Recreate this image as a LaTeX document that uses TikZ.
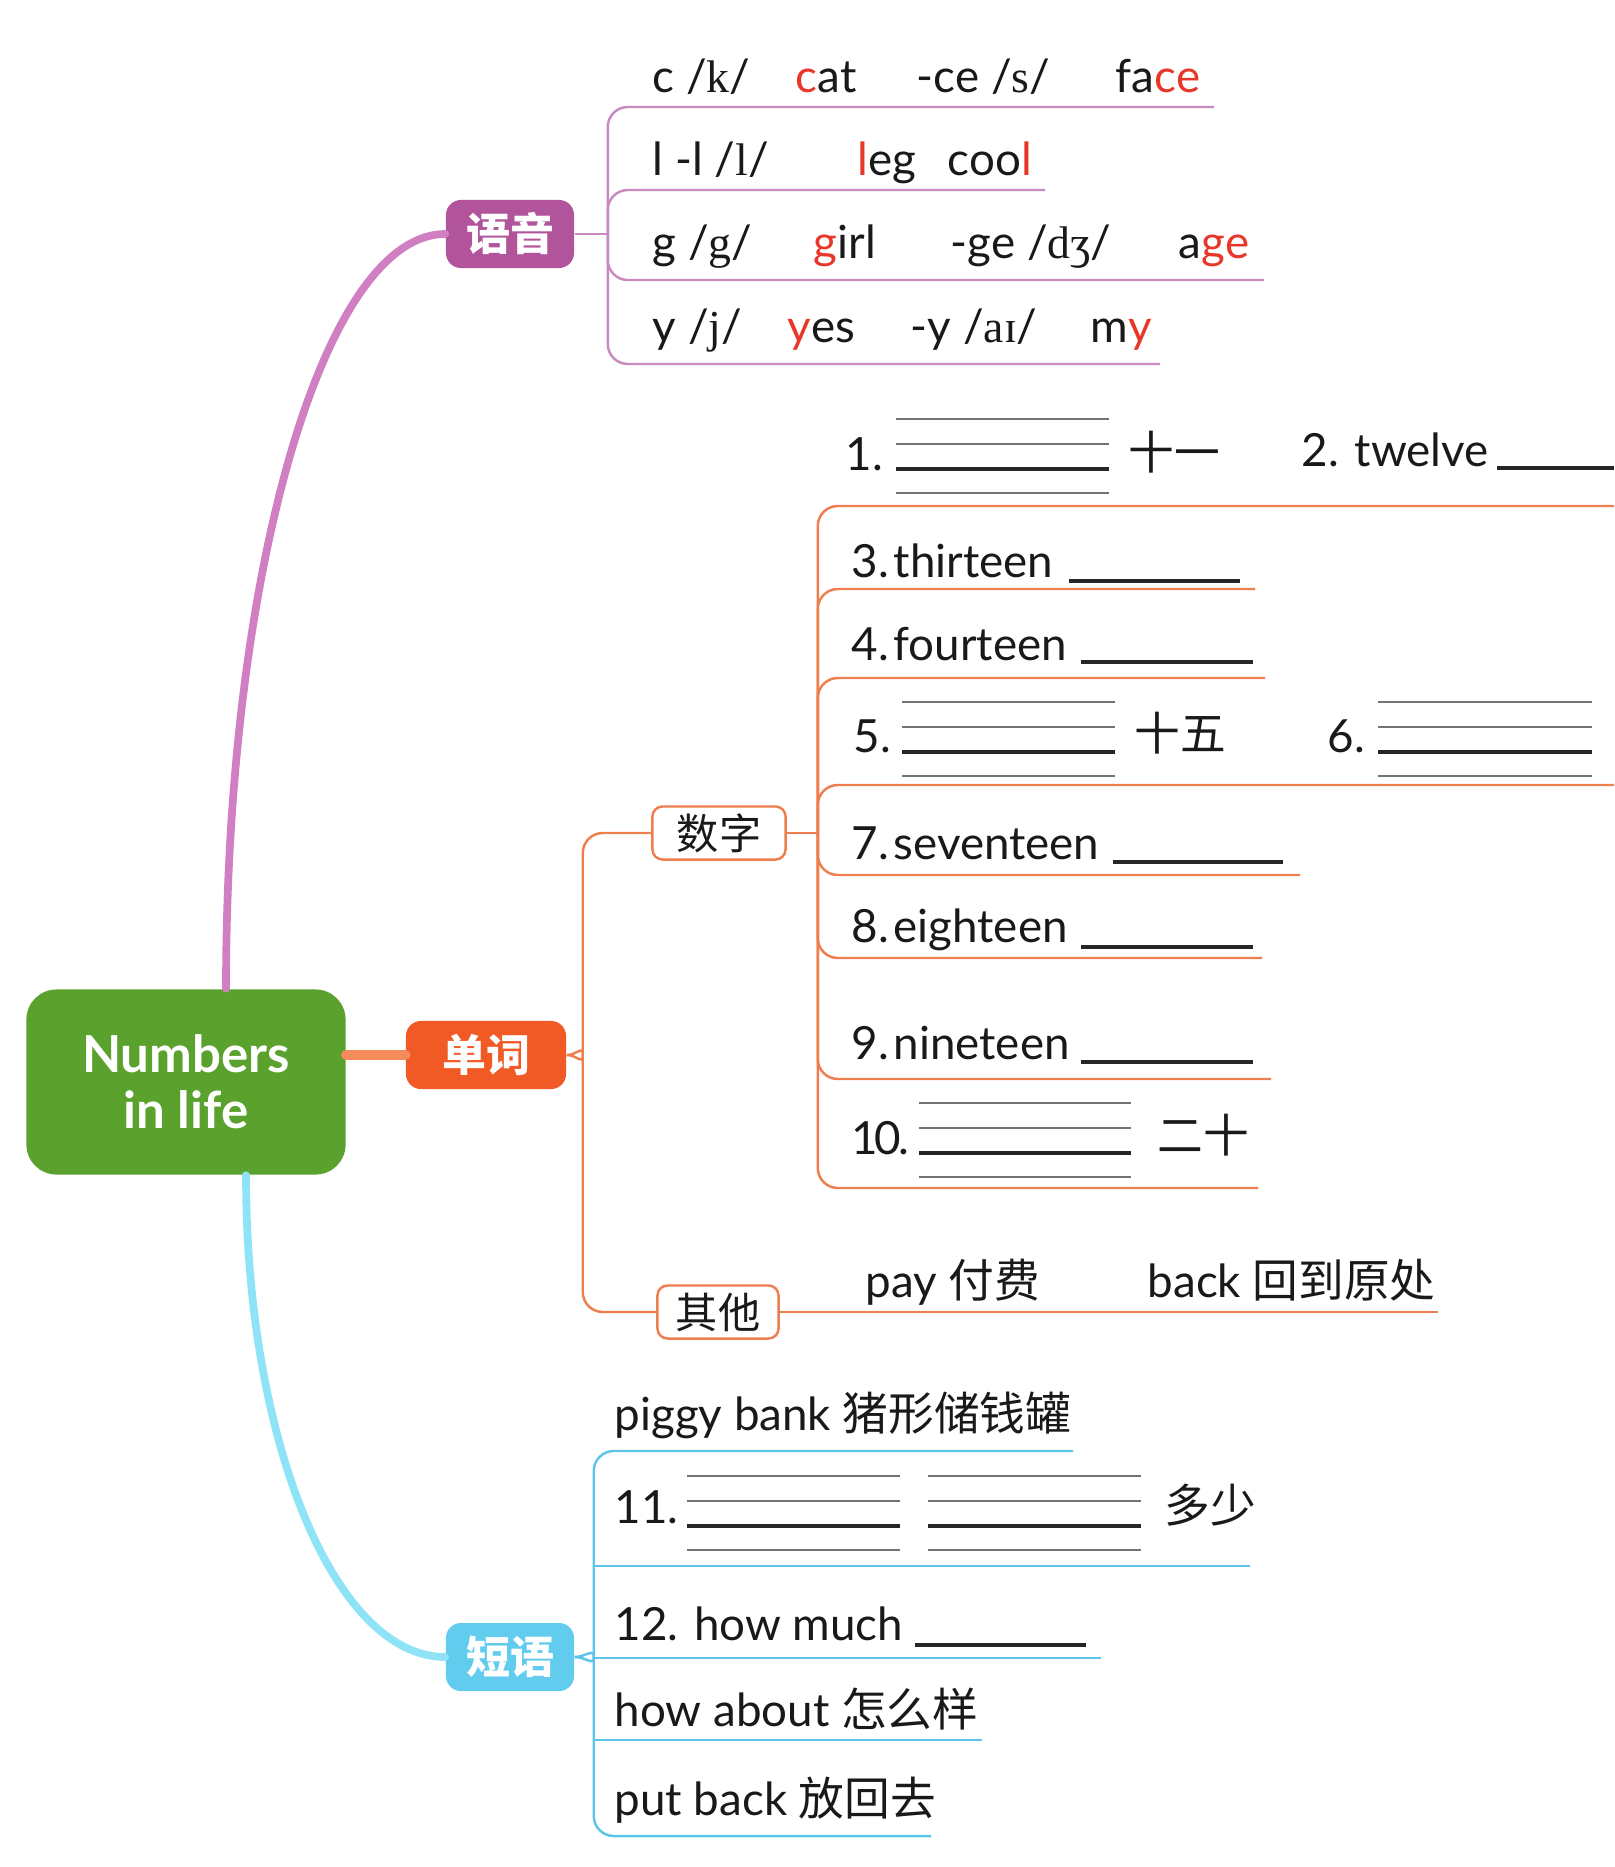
\documentclass[tikz,border=0pt]{standalone}
\usepackage{fontspec}
\setmainfont{Lato}
\newfontfamily\cjk{Noto Sans CJK SC}
\newfontfamily\ipa{Liberation Serif}
\usepackage{tikz}
\usetikzlibrary{positioning,calc}

\definecolor{rootgreen}{HTML}{5BA12E}
\definecolor{yypurple}{HTML}{B2549C}
\definecolor{yycurve}{HTML}{D07FC2}
\definecolor{yyline}{HTML}{C98ABF}
\definecolor{dcorange}{HTML}{F15A24}
\definecolor{dccurve}{HTML}{F58A5A}
\definecolor{dcline}{HTML}{EF7E4E}
\definecolor{dycyan}{HTML}{62CCEF}
\definecolor{dycurve}{HTML}{8EE4F6}
\definecolor{dyline}{HTML}{5EC5EA}
\definecolor{hl}{HTML}{E8372A}

\newcommand{\red}[1]{\textcolor{hl}{#1}}
\newcommand{\ph}[1]{{\ipa #1}}
\newcommand{\cell}[2]{\makebox[#1][l]{#2}}
\newcommand{\fourline}[3]{%
  \foreach \off in {-50,-25,24}{\draw[guide] (#1,#3+\off) -- (#2,#3+\off);}
  \draw[blank] (#1,#3) -- (#2,#3);}

\begin{document}
\begin{tikzpicture}[x=0.01cm, y=-0.01cm,
  every node/.style={font=\fontsize{13pt}{15pt}\selectfont, inner sep=0pt, text=black!90},
  root/.style={fill=rootgreen, rounded corners=0.3cm, minimum width=3.19cm, minimum height=1.85cm, align=center, text=white, font=\fontsize{14.5pt}{16pt}\selectfont\bfseries},
  topic/.style={rounded corners=0.15cm, minimum width=1.28cm, minimum height=0.68cm, text=white, font=\fontsize{12.5pt}{14pt}\selectfont\cjk\bfseries},
  sub/.style={draw=dcline, line width=0.7pt, fill=white, rounded corners=0.1cm, minimum height=0.53cm, font=\fontsize{12pt}{14pt}\selectfont\cjk},
  row/.style={anchor=base west},
  stem/.style={line width=2.2pt, line cap=round},
  twig/.style={line width=0.7pt, rounded corners=0.2cm},
  blank/.style={line width=0.9pt, black!85},
  guide/.style={line width=0.5pt, black!55}]
\useasboundingbox (0,0) rectangle (1614,1867);
% Centre and main branches
\node[root] (root) at (186,1082) {Numbers\\in life};
\node[topic, fill=yypurple] (yuyin) at (510,234) {语音};
\node[topic, fill=dcorange, minimum width=1.6cm] (danci) at (486,1055) {单词};
\node[topic, fill=dycyan] (duanyu) at (510,1657) {短语};
\draw[stem, yycurve] ([xshift=0.4cm]root.north) to[out=90, in=180, out distance=4.17cm, in distance=1.21cm] (yuyin.west);
\draw[stem, dccurve, line width=3pt] (root.east |- danci.west) -- (danci.west);
\draw[stem, dycurve] ([xshift=0.6cm]root.south) to[out=-90, in=180, out distance=2.67cm, in distance=1.1cm] (duanyu.west);

% Phonics
\coordinate (yyspine) at ([xshift=0.33cm]yuyin.east);
\draw[twig, yyline] (yuyin.east) -- (yyspine);
\foreach \n/\e/\u in {1/1214/107, 2/1045/190, 3/1264/280, 4/1160/364} \coordinate (yyu\n) at (\e,\u);
\foreach \n in {1,...,4} \draw[twig, yyline] (yyu\n) -- (yyu\n -| yyspine) -- (yyspine);
\node[row] (yy1) at (652,93) {\cell{1.43cm}{c /\ph{k}/}\cell{1.21cm}{\red{c}at}\cell{1.99cm}{-ce /\ph{s}/}fa\red{ce}};
\node[row] (yy2) at (652,176) {\cell{2.05cm}{l -l /\ph{l}/}\cell{0.90cm}{\red{l}eg}coo\red{l}};
\node[row] (yy3) at (652,259) {\cell{1.61cm}{g /\ph{g}/}\cell{1.37cm}{\red{g}irl}\cell{2.28cm}{-ge /\ph{dʒ}/}a\red{ge}};
\node[row] (yy4) at (652,343) {\cell{1.35cm}{y /\ph{j}/}\cell{1.23cm}{\red{y}es}\cell{1.80cm}{-y /\ph{aɪ}/}m\red{y}};

% Words
\node[sub, minimum width=1.33cm] (shuzi) at (719,833) {数字};
\node[sub, minimum width=1.21cm] (qita) at (718,1312) {其他};
\coordinate (dcspine) at ([xshift=0.16cm]danci.east);
\draw[twig, dcline] (shuzi.west) -- (shuzi.west -| dcspine) -- ([yshift=0.2cm]dcspine) to[out=-90, in=0] (danci.east);
\draw[twig, dcline] (qita.west) -- (qita.west -| dcspine) -- ([yshift=-0.2cm]dcspine) to[out=90, in=0] (danci.east);
\coordinate (qtu) at (1438,1312);
\draw[twig, dcline] (qita.east) -- (qtu);
\coordinate (szspine) at ([xshift=0.31cm]shuzi.east);
\draw[twig, dcline] (shuzi.east) -- (szspine);
\foreach \n/\e/\u in {1/1614/506, 2/1255/589, 3/1265/678, 4/1614/785, 5/1300/875, 6/1262/958, 7/1271/1079, 8/1258/1188} \coordinate (szu\n) at (\e,\u);
\foreach \n in {1,...,8} \draw[twig, dcline] (szu\n) -- (szu\n -| szspine) -- (szspine);
\node[row] (n1) at (845,471) {1.};
\fourline{896}{1109}{469}
\node[row] (n1cn) at (1128,469) {\cjk 十一};
\node[row] (n2) at (1301,466) {2. twelve};
\node[row] (n3) at (851,577) {3.\hspace{0.1em}thirteen};
\node[row] (n4) at (851,660) {4.\hspace{0.1em}fourteen};
\node[row] (n5) at (853,752) {5.};
\fourline{902}{1115}{752}
\node[row] (n5cn) at (1134,750) {\cjk 十五};
\node[row] (n6) at (1327,752) {6.};
\fourline{1378}{1592}{752}
\node[row] (n7) at (851,859) {7.\hspace{0.1em}seventeen};
\node[row] (n8) at (851,942) {8.\hspace{0.1em}eighteen};
\node[row] (n9) at (851,1059) {9.\hspace{0.1em}nineteen};
\node[row] (n10) at (851,1154) {1\hspace{-0.08em}0\hspace{-0.05em}.};
\fourline{919}{1131}{1153}
\node[row] (n10cn) at (1157,1152) {\cjk 二十};
\foreach \a/\b/\y in {1497/1614/468, 1069/1240/581, 1081/1253/662, 1113/1283/862, 1081/1253/947, 1081/1253/1062} \draw[blank] (\a,\y) -- (\b,\y);
\node[row] (pay) at (865,1297) {pay {\cjk 付费}};
\node[row] (back) at (1147,1297) {back {\cjk 回到原处}};

% Phrases
\coordinate (dyspine) at ([xshift=0.19cm]duanyu.east);
\foreach \n/\e/\u in {1/1073/1451, 2/1250/1566, 3/1101/1658, 4/982/1740, 5/931/1836} \coordinate (dyu\n) at (\e,\u);
\draw[twig, dyline] (dyu1) -- (dyu1 -| dyspine) -- ([yshift=0.2cm]dyspine) to[out=-90, in=0] (duanyu.east);
\draw[twig, dyline] (dyu5) -- (dyu5 -| dyspine) -- ([yshift=-0.2cm]dyspine) to[out=90, in=0] (duanyu.east);
\foreach \n in {2,3,4} \draw[twig, dyline, sharp corners] (dyu\n) -- (dyu\n -| dyspine);
\node[row] (pb) at (614,1430) {piggy bank {\cjk 猪形储钱罐}};
\node[row] (p11) at (614,1523) {11.};
\fourline{687}{900}{1526}
\fourline{928}{1141}{1526}
\node[row] (p11cn) at (1164,1522) {\cjk 多少};
\node[row] (p12) at (614,1640) {12. how much};
\draw[blank] (915,1645) -- (1086,1645);
\node[row] (ha) at (614,1726) {how about {\cjk 怎么样}};
\node[row] (pbk) at (614,1815) {put back {\cjk 放回去}};
\end{tikzpicture}
\end{document}
